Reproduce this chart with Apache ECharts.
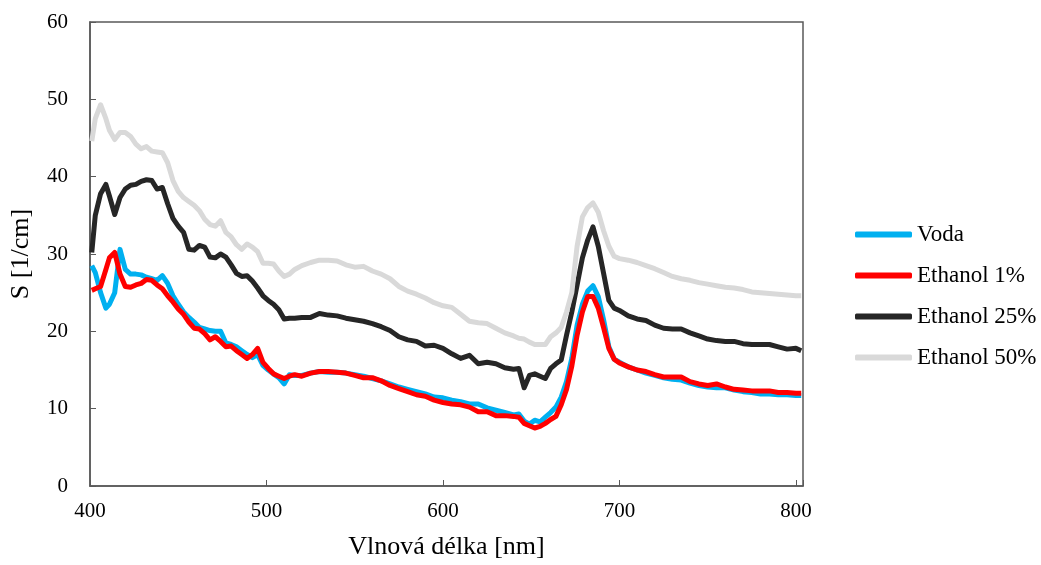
<!DOCTYPE html>
<html>
<head>
<meta charset="utf-8">
<script src="https://cdn.jsdelivr.net/npm/echarts@6/dist/echarts.min.js"></script>
<style>html,body{margin:0;padding:0;background:#fff}#c{width:1041px;height:565px}</style>
</head>
<body>
<div id="c"></div>
<script>
const seriesNames = ['Voda', 'Ethanol 1%', 'Ethanol 25%', 'Ethanol 50%'];
const wavelengths = [401,403,406,409,411,414,417,420,423,426,429,432,435,438,441,444,447,450,453,456,459,462,465,468,471,474,477,480,483,486,489,492,495,498,501,504,507,510,513,516,520,525,530,535,540,545,550,555,560,565,570,575,580,585,590,595,600,605,610,615,620,625,630,635,640,643,646,649,652,655,658,661,664,667,670,673,676,679,682,685,688,691,694,697,700,705,710,715,720,725,730,735,740,745,750,755,760,765,770,775,780,785,790,795,800,803];
const voda = [28.5,27.6,25,23,23.5,25,30.6,28,27.4,27.4,27.3,27,26.8,26.6,27.2,26.2,24.6,23.5,22.5,21.8,21.2,20.5,20.3,20.1,20,20,18.5,18.3,18,17.5,17,16.6,17,15.6,15,14.5,14,13.2,14.4,14.3,14.3,14.6,14.8,14.7,14.7,14.6,14.4,14.2,13.9,13.6,13.2,12.8,12.5,12.2,11.9,11.5,11.4,11.1,10.9,10.6,10.6,10.1,9.8,9.5,9.2,9.3,8.4,8,8.5,8.3,8.9,9.5,10.2,11.5,13.5,16.5,20.8,23.5,25.2,25.9,24.5,21.5,18,16.4,16,15.4,15,14.6,14.3,14,13.8,13.7,13.3,13,12.8,12.7,12.7,12.4,12.2,12.1,11.9,11.9,11.8,11.8,11.7,11.7];
const eth1 = [25.3,25.5,25.8,28,29.5,30.2,27.4,25.8,25.7,26,26.2,26.7,26.6,26,25.5,24.6,23.8,22.9,22.2,21.2,20.4,20.3,19.7,18.9,19.3,18.7,18,18.1,17.5,17,16.5,17,17.8,16,15.2,14.5,14.2,13.9,14.2,14.4,14.2,14.6,14.8,14.8,14.7,14.6,14.3,14,14,13.6,13,12.6,12.2,11.8,11.6,11.1,10.8,10.6,10.5,10.2,9.6,9.6,9.1,9.1,9,8.9,8.1,7.8,7.5,7.7,8.1,8.6,9,10.5,12.5,15.5,19.5,22.5,24.5,24.5,23,20.5,17.8,16.4,15.9,15.4,15,14.8,14.4,14.1,14.1,14.1,13.5,13.2,13,13.2,12.8,12.5,12.4,12.3,12.3,12.3,12.1,12.1,12,12];
const eth25 = [30.2,35,37.8,39,37.5,35.1,37.3,38.4,38.9,39,39.4,39.6,39.5,38.4,38.6,36.5,34.6,33.6,32.8,30.6,30.5,31.1,30.9,29.6,29.5,30,29.6,28.6,27.5,27.1,27.2,26.5,25.6,24.6,24,23.5,22.8,21.6,21.7,21.7,21.8,21.8,22.3,22.1,22,21.7,21.5,21.3,21,20.6,20.1,19.3,18.9,18.7,18.1,18.2,17.8,17.1,16.5,16.9,15.8,16,15.8,15.3,15.1,15.2,12.7,14.3,14.5,14.2,13.9,15.2,15.8,16.3,19.5,22.5,26,29.5,31.8,33.5,31,27.5,24,23,22.7,22,21.6,21.4,20.8,20.4,20.3,20.3,19.8,19.4,19,18.8,18.7,18.7,18.4,18.3,18.3,18.3,18,17.7,17.8,17.5];
const eth50 = [44.6,47.5,49.3,47.5,46,44.8,45.7,45.7,45.2,44.2,43.6,43.9,43.3,43.2,43.1,41.8,39.5,38.1,37.3,36.8,36.3,35.6,34.5,33.8,33.6,34.3,32.8,32.2,31.2,30.6,31.3,30.9,30.3,28.8,28.8,28.7,27.8,27.1,27.4,28,28.5,28.9,29.2,29.2,29.1,28.6,28.3,28.4,27.8,27.4,26.8,25.8,25.2,24.8,24.3,23.7,23.3,23.1,22.2,21.3,21.1,21,20.4,19.8,19.4,19.1,19,18.6,18.3,18.3,18.3,19.3,19.8,20.5,22.5,25,31,34.8,36,36.6,35.4,33,31,29.7,29.4,29.2,28.9,28.5,28.1,27.6,27.1,26.8,26.6,26.3,26.1,25.9,25.7,25.6,25.4,25.1,25,24.9,24.8,24.7,24.6,24.6];
const colors = ['#00B0F0', '#FF0000', '#262626', '#D9D9D9'];
const allValues = [voda, eth1, eth25, eth50];

const font = 'Liberation Serif';
const chart = echarts.init(document.getElementById('c'), null, {renderer: 'canvas'});
chart.setOption({
  animation: false,
  backgroundColor: '#fff',
  grid: {left: 89, top: 22, right: 238, bottom: 77, show: true, borderColor: '#595959', borderWidth: 1.5, backgroundColor: 'transparent'},
  legend: {
    orient: 'vertical', left: 855, top: 223, padding: 0,
    icon: 'roundRect',
    itemWidth: 57, itemHeight: 6, itemGap: 18,
    data: seriesNames,
    textStyle: {fontFamily: font, fontSize: 23, color: '#000'}
  },
  xAxis: {
    type: 'value', min: 400, max: 804, interval: 100,
    name: 'Vlnová délka [nm]', nameLocation: 'middle', nameGap: 48,
    nameTextStyle: {fontFamily: font, fontSize: 26, color: '#000'},
    axisLine: {show: true, lineStyle: {color: '#595959', width: 1.5}},
    axisTick: {show: true, inside: true, length: 6, lineStyle: {color: '#595959'}},
    axisLabel: {fontFamily: font, fontSize: 21, color: '#000', margin: 15,
      formatter: v => (v % 100 === 0 ? String(v) : '')},
    splitLine: {show: false}
  },
  yAxis: {
    type: 'value', min: 0, max: 60, interval: 10,
    name: 'S [1/cm]', nameLocation: 'middle', nameGap: 56,
    nameTextStyle: {fontFamily: font, fontSize: 26, color: '#000'},
    axisLine: {show: true, lineStyle: {color: '#595959', width: 1.5}},
    axisTick: {show: true, inside: true, length: 6, lineStyle: {color: '#595959'}},
    axisLabel: {fontFamily: font, fontSize: 21, color: '#000', margin: 22},
    splitLine: {show: false}
  },
  series: seriesNames.map((n, i) => ({
    name: n, type: 'line', showSymbol: false, symbol: 'none',
    data: wavelengths.map((w, j) => [w, allValues[i][j]]),
    lineStyle: {color: colors[i], width: 5, join: 'round'},
    itemStyle: {color: colors[i]},
    z: 2
  }))
});
</script>
</body>
</html>
